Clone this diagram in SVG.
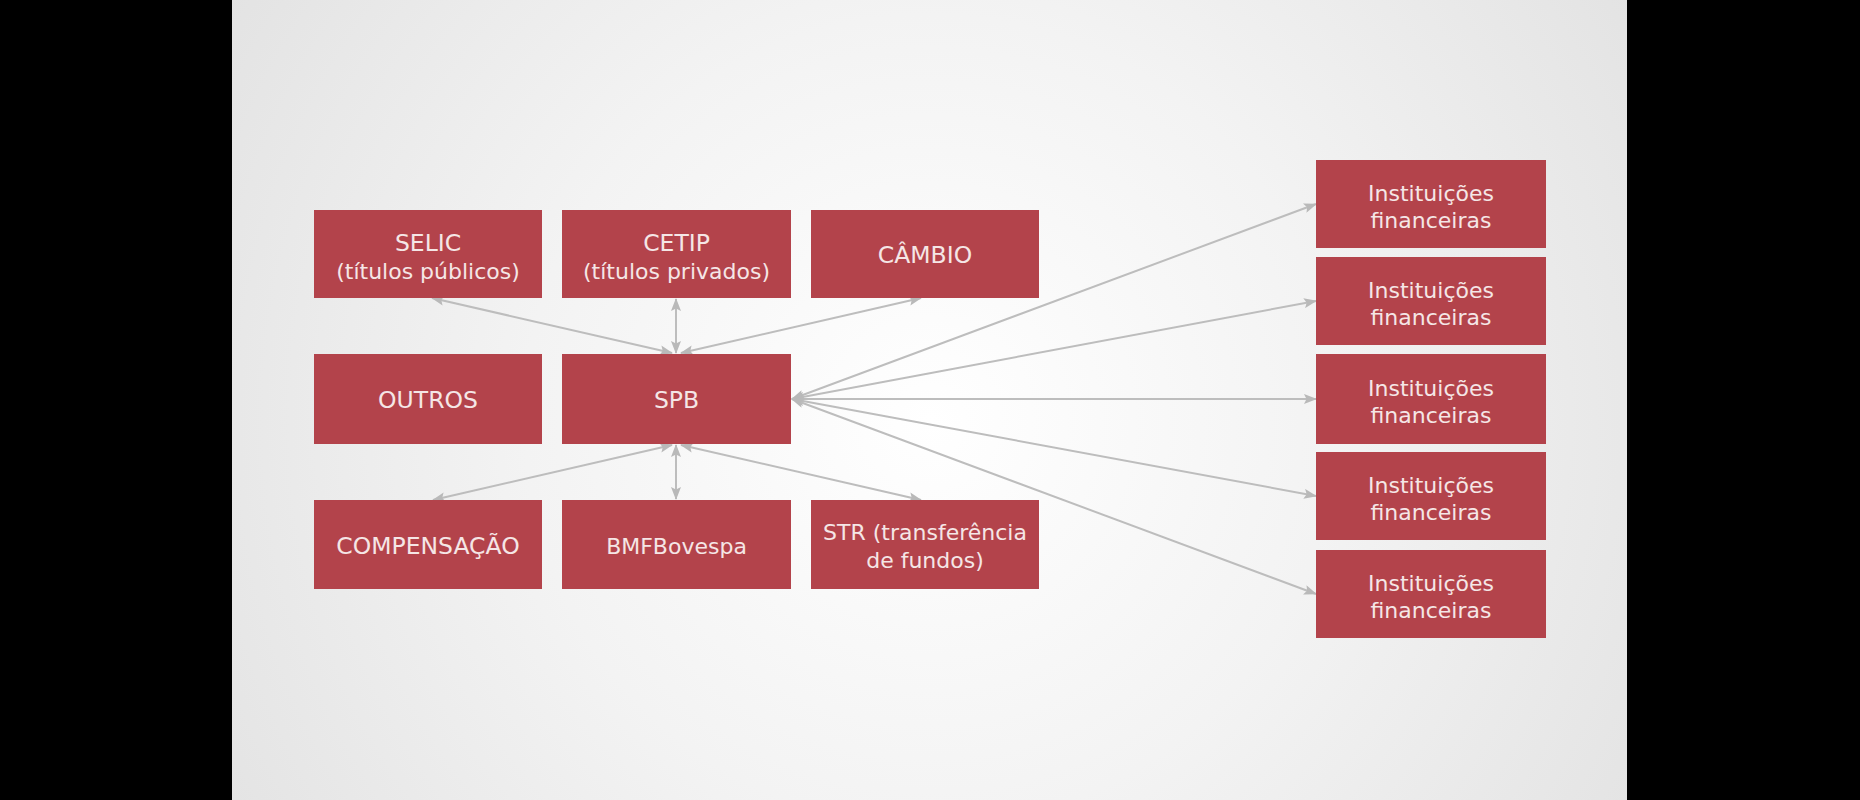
<svg xmlns="http://www.w3.org/2000/svg" width="1860" height="800" viewBox="0 0 1860 800">
<defs>
<radialGradient id="bg" cx="930" cy="420" r="900" gradientUnits="userSpaceOnUse">
<stop offset="0" stop-color="#ffffff"/>
<stop offset="0.45" stop-color="#f3f3f3"/>
<stop offset="1" stop-color="#e0e0e0"/>
</radialGradient>
<marker id="ah" viewBox="0 0 13 10" refX="12" refY="5" markerWidth="13" markerHeight="10" markerUnits="userSpaceOnUse" orient="auto-start-reverse">
<path d="M0,0 L13,5 L0,10 L2.5,5 Z" fill="#b9b9b9"/>
</marker>
<style>
.box{fill:#b3434b}
.t{font-family:"DejaVu Sans","Liberation Sans",sans-serif;font-size:22px;fill:#f5e6e6;text-anchor:middle}
.u{font-size:23.5px}
.c{stroke:#bdbdbd;stroke-width:2;fill:none;marker-start:url(#ah);marker-end:url(#ah)}
</style>
</defs>
<rect x="0" y="0" width="1860" height="800" fill="#000"/>
<rect x="232" y="0" width="1395" height="800" fill="url(#bg)"/>

<g id="connectors">
<line class="c" x1="672" y1="353" x2="432" y2="298"/>
<line class="c" x1="676" y1="353" x2="676" y2="299"/>
<line class="c" x1="681" y1="353" x2="921" y2="298"/>
<line class="c" x1="672" y1="445" x2="433" y2="500"/>
<line class="c" x1="676" y1="445" x2="676" y2="499"/>
<line class="c" x1="681" y1="445" x2="921" y2="500"/>
<line class="c" x1="792" y1="399" x2="1316" y2="204"/>
<line class="c" x1="792" y1="399" x2="1316" y2="301"/>
<line class="c" x1="792" y1="399" x2="1316" y2="399"/>
<line class="c" x1="792" y1="399" x2="1316" y2="496"/>
<line class="c" x1="792" y1="399" x2="1316" y2="594"/>
</g>

<g id="selic"><rect class="box" x="314" y="210" width="228" height="88"/>
<text class="t u" x="428" y="251">SELIC</text><text class="t" x="428" y="279">(títulos públicos)</text></g>
<g id="cetip"><rect class="box" x="562" y="210" width="229" height="88"/>
<text class="t u" x="676.5" y="251">CETIP</text><text class="t" x="676.5" y="279">(títulos privados)</text></g>
<g id="cambio"><rect class="box" x="811" y="210" width="228" height="88"/>
<text class="t u" x="925" y="263">CÂMBIO</text></g>

<g id="outros"><rect class="box" x="314" y="354" width="228" height="90"/>
<text class="t u" x="428" y="408">OUTROS</text></g>
<g id="spb"><rect class="box" x="562" y="354" width="229" height="90"/>
<text class="t u" x="676.5" y="408">SPB</text></g>

<g id="compensacao"><rect class="box" x="314" y="500" width="228" height="89"/>
<text class="t u" x="428" y="554">COMPENSAÇÃO</text></g>
<g id="bmfbovespa"><rect class="box" x="562" y="500" width="229" height="89"/>
<text class="t" x="676.5" y="554">BMFBovespa</text></g>
<g id="str"><rect class="box" x="811" y="500" width="228" height="89"/>
<text class="t" x="925" y="540">STR (transferência</text><text class="t" x="925" y="568">de fundos)</text></g>

<g id="if1"><rect class="box" x="1316" y="160" width="230" height="88"/>
<text class="t" x="1431" y="201">Instituições</text><text class="t" x="1431" y="228">financeiras</text></g>
<g id="if2"><rect class="box" x="1316" y="257" width="230" height="88"/>
<text class="t" x="1431" y="298">Instituições</text><text class="t" x="1431" y="325">financeiras</text></g>
<g id="if3"><rect class="box" x="1316" y="354" width="230" height="90"/>
<text class="t" x="1431" y="396">Instituições</text><text class="t" x="1431" y="423">financeiras</text></g>
<g id="if4"><rect class="box" x="1316" y="452" width="230" height="88"/>
<text class="t" x="1431" y="493">Instituições</text><text class="t" x="1431" y="520">financeiras</text></g>
<g id="if5"><rect class="box" x="1316" y="550" width="230" height="88"/>
<text class="t" x="1431" y="591">Instituições</text><text class="t" x="1431" y="618">financeiras</text></g>
</svg>
